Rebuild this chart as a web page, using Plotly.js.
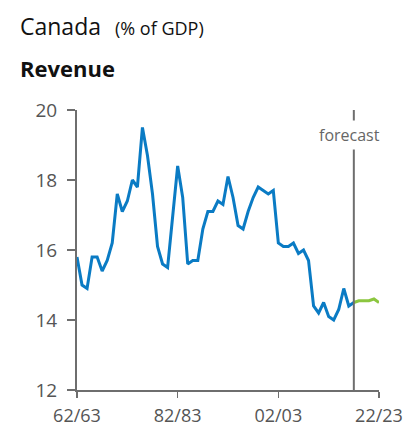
<!DOCTYPE html>
<html>
<head>
<meta charset="utf-8">
<script src="https://cdn.plot.ly/plotly-3.0.1.min.js"></script>
<style>
  html, body { margin: 0; padding: 0; background: #fff; }
  #chart { width: 418px; height: 429px; }
</style>
</head>
<body>
<div id="chart"></div>
<script>
// fiscal years (start year), 1962/63 .. 2017/18 actual
const histYears = [];
for (let y = 1962; y <= 2017; y++) histYears.push(y);
const histRevenue = [
  15.8, 15.0, 14.9, 15.8, 15.8, 15.4, 15.7, 16.2, 17.6, 17.1,
  17.4, 18.0, 17.8, 19.5, 18.7, 17.6, 16.1, 15.6, 15.5, 16.9,
  18.4, 17.5, 15.6, 15.7, 15.7, 16.6, 17.1, 17.1, 17.4, 17.3,
  18.1, 17.5, 16.7, 16.6, 17.1, 17.5, 17.8, 17.7, 17.6, 17.7,
  16.2, 16.1, 16.1, 16.2, 15.9, 16.0, 15.7, 14.4, 14.2, 14.5,
  14.1, 14.0, 14.3, 14.9, 14.4, 14.5
];

// forecast years
const fcstYears = [2017, 2018, 2019, 2020, 2021, 2022];
const fcstRevenue = [14.5, 14.55, 14.55, 14.55, 14.6, 14.5];

const tickYears = [1962, 1982, 2002, 2022];
const tickLabels = ["62/63", "82/83", "02/03", "22/23"];
const forecastStart = 2017;

const font = "Open Sans, Noto Sans, sans-serif";
const axisGrey = "#6e6e6e";

// plot area in pixels, used to place the header text
const W = 418, H = 429, L = 77, R = 39, T = 110, B = 39;
const pw = W - L - R, ph = H - T - B;
const px = x => (x - L) / pw;
const py = y => (H - B - y) / ph;

const data = [
  {
    x: histYears, y: histRevenue, type: "scatter", mode: "lines",
    line: { color: "#0a7bc4", width: 3 }, hoverinfo: "skip"
  },
  {
    x: fcstYears, y: fcstRevenue, type: "scatter", mode: "lines",
    line: { color: "#8cc63f", width: 3 }, hoverinfo: "skip"
  }
];

const layout = {
  width: W, height: H,
  margin: { l: L, r: R, t: T, b: B },
  showlegend: false,
  paper_bgcolor: "#fff", plot_bgcolor: "#fff",
  font: { family: font, color: "#555", size: 18 },
  xaxis: {
    range: [1962, 2022], showgrid: false, zeroline: false,
    showline: true, linecolor: axisGrey, linewidth: 2,
    ticks: "outside", ticklen: 6, tickwidth: 1.5, tickcolor: axisGrey,
    tickvals: tickYears, ticktext: tickLabels, ticklabelstandoff: 2,
    tickfont: { size: 18, color: "#555" }
  },
  yaxis: {
    range: [12, 20], showgrid: false, zeroline: false,
    showline: true, linecolor: axisGrey, linewidth: 2,
    ticks: "outside", ticklen: 8, tickwidth: 1.5, tickcolor: axisGrey,
    tickvals: [12, 14, 16, 18, 20], ticklabelstandoff: 6,
    tickfont: { size: 19, color: "#555" }
  },
  shapes: [{
    type: "line", xref: "x", yref: "y",
    x0: forecastStart, x1: forecastStart, y0: 12, y1: 20,
    line: { color: axisGrey, width: 2 }
  }],
  annotations: [
    {
      xref: "x", yref: "y", x: forecastStart - 0.9, y: 19.3,
      text: "forecast", showarrow: false, bgcolor: "#fff", borderpad: 3,
      font: { size: 16, color: "#666" }
    },
    {
      xref: "paper", yref: "paper", x: px(18), y: py(26),
      xanchor: "left", yanchor: "middle", showarrow: false,
      text: "Canada", font: { size: 23, color: "#111" }
    },
    {
      xref: "paper", yref: "paper", x: px(113), y: py(28),
      xanchor: "left", yanchor: "middle", showarrow: false,
      text: "(% of GDP)", font: { size: 18, color: "#111" }
    },
    {
      xref: "paper", yref: "paper", x: px(18), y: py(68),
      xanchor: "left", yanchor: "middle", showarrow: false,
      text: "<b>Revenue</b>", font: { size: 22, color: "#111" }
    }
  ]
};

Plotly.newPlot("chart", data, layout, { staticPlot: true });
</script>
</body>
</html>
